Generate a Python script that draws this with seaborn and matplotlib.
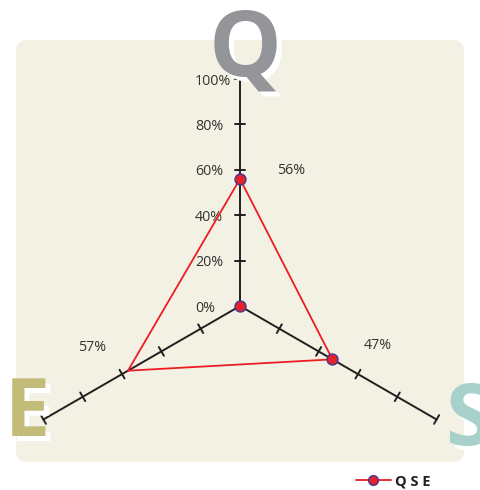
import numpy as np
import pandas as pd
import matplotlib
matplotlib.use("Agg")
import matplotlib.pyplot as plt
import seaborn as sns
from matplotlib.patches import FancyBboxPatch
from matplotlib.lines import Line2D

# ---- data ----
categories = ["Q", "S", "E"]
values = [56, 47, 57]            # percent
angles_deg = [90, -30, 210]      # axis directions
tick_values = [0, 20, 40, 60, 80, 100]
tick_labels = ["0%", "20%", "40%", "60%", "80%", "100%"]
value_labels = ["56%", "47%", "57%"]
series_name = "Q S E"

sns.set_theme(style="white")
plt.rcParams["font.family"] = ["Open Sans", "DejaVu Sans"]

W, H = 481, 490
fig = plt.figure(figsize=(W / 100, H / 100), dpi=100)
ax = fig.add_axes([0, 0, 1, 1])
R = 227.0  # px per unit radius
cx, cy = 240.0, 306.0  # centre in pixels (from top)
ax.set_xlim(-cx / R, (W - cx) / R)
ax.set_ylim(-(H - cy) / R, cy / R)
ax.set_aspect("equal", adjustable="box")
ax.axis("off")
fig.patch.set_facecolor("white")

# background panel
bg = FancyBboxPatch((16 / W, 28 / H), (464 - 16) / W, (462 - 40) / H,
                    boxstyle="round,pad=0,rounding_size=0.022",
                    transform=ax.transAxes, facecolor="#f3f1e3",
                    edgecolor="none", zorder=0)
ax.add_patch(bg)

def pol(v, a):
    r = v / 100.0
    t = np.deg2rad(a)
    return r * np.cos(t), r * np.sin(t)

axis_col = "#231f20"
tick_half = 5 / R
for a in angles_deg:
    ex, ey = pol(100, a)
    ax.plot([0, ex], [0, ey], color=axis_col, lw=1.4, zorder=2)
    t = np.deg2rad(a)
    nx, ny = -np.sin(t), np.cos(t)
    for tv in tick_values[1:]:
        px, py = pol(tv, a)
        ax.plot([px - nx * tick_half, px + nx * tick_half],
                [py - ny * tick_half, py + ny * tick_half],
                color=axis_col, lw=1.4, zorder=2)

# tick labels on Q axis
for tv, tl in zip(tick_values, tick_labels):
    px, py = pol(tv, 90)
    ax.text((195 - cx) / R, py - 2 / R, tl,
            ha="left", va="center", fontsize=10.3, color="#333333", zorder=3)

# polygon
pts = [pol(v, a) for v, a in zip(values, angles_deg)]
poly = pd.DataFrame({
    "x": [p[0] for p in pts] + [pts[0][0]],
    "y": [p[1] for p in pts] + [pts[0][1]],
})
sns.lineplot(data=poly, x="x", y="y", sort=False, estimator=None,
             color="#ec1c24", lw=1.3, ax=ax, zorder=4)

# markers (Q, S and origin)
mk = pd.DataFrame({
    "x": [pts[0][0], pts[1][0], 0.0],
    "y": [pts[0][1], pts[1][1], 0.0],
})
sns.scatterplot(data=mk, x="x", y="y", s=62, color="#e8202a",
                edgecolor="#3a3a98", linewidth=1.0, ax=ax, zorder=5)

# value labels
offsets = [(37, 6), (33, 10), (-26, 17)]
for (px, py), lab, off in zip(pts, value_labels, offsets):
    ax.annotate(lab, (px, py), xytext=off, textcoords="offset points",
                ha="center", va="center", fontsize=10.3, color="#333333",
                zorder=6)

# big axis letters
letter_cols = ["#939598", "#a9d1cc", "#c3bb78"]
letter_pos = [(245, 75, "center", 66), (445, 445, "left", 62), (5, 436, "left", 58)]
for c, col, (lx, ly, ha, fs) in zip(categories, letter_cols, letter_pos):
    ax.text((lx + 5 - cx) / R, (cy - ly - 5) / R, c, ha=ha, va="baseline",
            fontsize=fs, fontweight="bold", color="white", zorder=6,
            family=["Open Sans", "DejaVu Sans"])
    ax.text((lx - cx) / R, (cy - ly) / R, c, ha=ha, va="baseline",
            fontsize=fs, fontweight="bold", color=col, zorder=7,
            family=["Open Sans", "DejaVu Sans"])

handle = Line2D([], [], color="#ec1c24", lw=1.3, marker="o", markersize=7,
                markerfacecolor="#e8202a", markeredgecolor="#3a3a98")
leg = fig.legend([handle], [series_name], loc="center right",
                 bbox_to_anchor=(438 / W, 1 - 481 / H), frameon=False,
                 handlelength=2.4, handletextpad=0.3, borderpad=0,
                 prop={"weight": "bold", "size": 10.5})
for t in leg.get_texts():
    t.set_color("#231f20")

fig.savefig("out.png", dpi=100)
